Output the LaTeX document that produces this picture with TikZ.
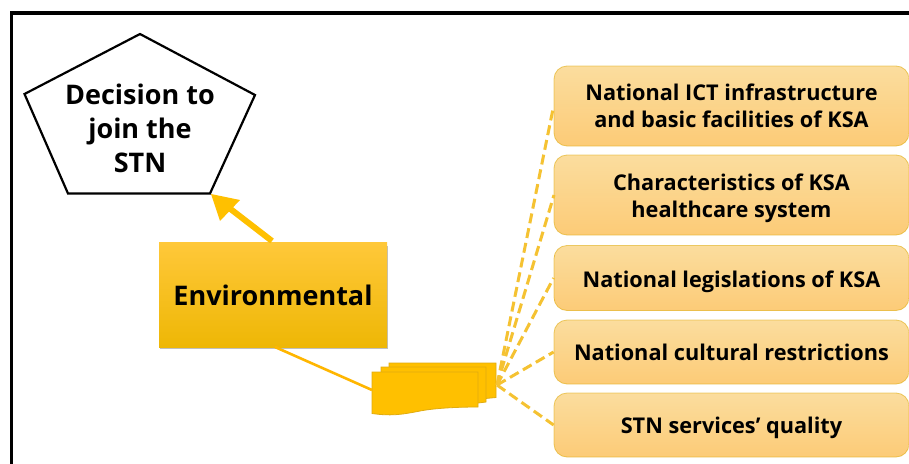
\documentclass[tikz,border=0pt]{standalone}
\usepackage{fontspec}
\setmainfont{Open Sans}
\definecolor{gold}{HTML}{FFC000}
\definecolor{goldline}{HTML}{E0AC10}
\definecolor{dashgold}{HTML}{F5C232}
\definecolor{F1}{HTML}{FBDD9E}
\definecolor{F2}{HTML}{FCCB77}
\definecolor{E1}{HTML}{FFC83A}
\definecolor{E2}{HTML}{EEB705}
\tikzset{
  x=1pt,y=-1pt,
  factor/.style={draw=goldline,draw opacity=.6,line width=.8pt,rounded corners=13pt,top color=F1,bottom color=F2,
    minimum width=355pt,align=center,font=\bfseries\fontsize{21.7}{27}\selectfont,text=black,inner sep=0pt},
  dashlink/.style={draw=dashgold,line width=3pt,dash pattern=on 10pt off 5pt},
  doc/.style={draw=goldline,fill=gold,line width=.8pt},
}
\newcommand{\lift}[1]{\rule{0pt}{#1pt}}
\begin{document}
\begin{tikzpicture}
\useasboundingbox (0,0) rectangle (909,463);
\clip (0,0) rectangle (909,463);
\fill[white] (0,0) rectangle (909,463);
% frame
\coordinate (fa) at (11.5,480);
\coordinate (fb) at (11.5,13);
\coordinate (fc) at (925,13);
\draw[line width=3.2pt,black] (fa) -- (fb) -- (fc);
% pentagon
\coordinate (p1) at (140,34);
\coordinate (p2) at (255,95);
\coordinate (p3) at (210,193.5);
\coordinate (p4) at (68,193.5);
\coordinate (p5) at (24.5,94);
\draw[line width=2.2pt,line join=miter] (p1) -- (p2) -- (p3) -- (p4) -- (p5) -- cycle;
\node[align=center,font=\bfseries\fontsize{27}{34}\selectfont,text=black,inner sep=0pt] (dec) at (140,128) {Decision to\\join the\\STN};
% environmental
\fill[black!50,opacity=.5] (160,246) rectangle (388,349);
\node[minimum width=228pt,minimum height=105pt,top color=E1,bottom color=E2,inner sep=0pt,
  font=\bfseries\fontsize{27}{30}\selectfont,text=black] (env) at (273,294.5) {\lift{22}Environmental};
% boxes
\node[factor,minimum height=80pt] (b1) at (731.5,106) {National ICT infrastructure\\and basic facilities of KSA};
\node[factor,minimum height=80pt] (b2) at (731.5,195) {\lift{24}Characteristics of KSA\\healthcare system};
\node[factor,minimum height=65pt] (b3) at (731.5,278) {\lift{24}National legislations of KSA};
\node[factor,minimum height=64pt] (b4) at (731.5,352) {National cultural restrictions};
\node[factor,minimum height=64pt] (b5) at (731.5,425) {\lift{23}STN services’ quality};
% documents
\coordinate (hub) at (497,385);
\draw[doc] (389,363) -- (496,363) -- (496,397.5) -- (480,399) -- (389,399) -- cycle;
\draw[doc] (381,367) -- (486,367) -- (486,402) -- (470,404) -- (381,404) -- cycle;
\draw[doc] (372,372) -- (478,372) -- (478,407) .. controls (450,407) and (430,409) .. (420,411) .. controls (400,415) and (390,416) .. (372,413.5) -- cycle;
\coordinate (docin) at (372,390);
% connectors
\draw[draw=gold!85!orange,line width=2.6pt] (275,347) -- (docin);
\coordinate (envtop) at (272,241);
\draw[draw=gold,line width=6pt] (envtop) -- (226,205.5);
\fill[gold] (211,194) -- (240,200) -- (220,221) -- cycle;
\draw[dashlink] (hub) -- (b1.west);
\draw[dashlink] (hub) -- (554,195);
\draw[dashlink] (hub) -- (b3.west);
\draw[dashlink] (hub) -- (b4.west);
\draw[dashlink] (hub) -- (b5.west);
\end{tikzpicture}
\end{document}
